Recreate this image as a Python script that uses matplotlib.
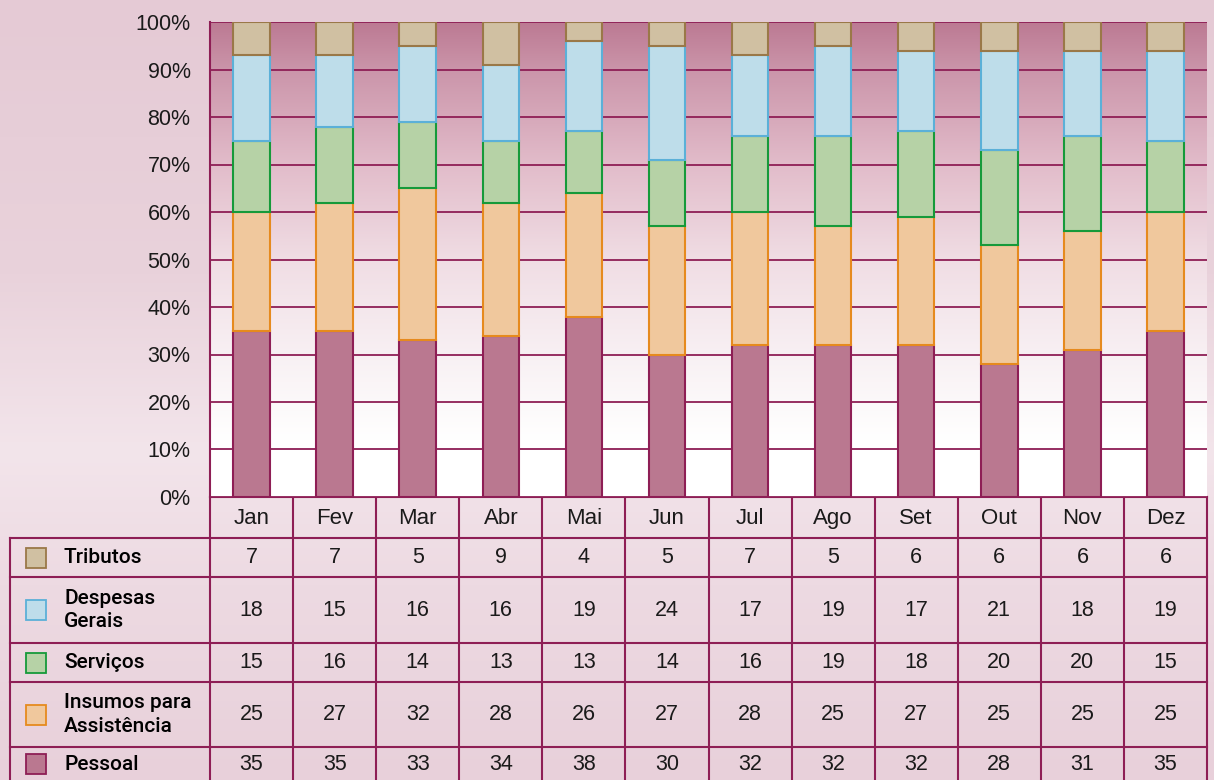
import numpy as np
import matplotlib
matplotlib.use("Agg")
import matplotlib.pyplot as plt
from matplotlib.colors import LinearSegmentedColormap
from matplotlib.patches import Rectangle

plt.rcParams['font.family'] = ['Liberation Sans', 'DejaVu Sans']

meses = ['Jan', 'Fev', 'Mar', 'Abr', 'Mai', 'Jun', 'Jul', 'Ago', 'Set', 'Out', 'Nov', 'Dez']

# bottom -> top of the stack
pessoal = [35, 35, 33, 34, 38, 30, 32, 32, 32, 28, 31, 35]
insumos = [25, 27, 32, 28, 26, 27, 28, 25, 27, 25, 25, 25]
servicos = [15, 16, 14, 13, 13, 14, 16, 19, 18, 20, 20, 15]
despesas = [18, 15, 16, 16, 19, 24, 17, 19, 17, 21, 18, 19]
tributos = [7, 7, 5, 9, 4, 5, 7, 5, 6, 6, 6, 6]

series = [pessoal, insumos, servicos, despesas, tributos]
nomes = ['Pessoal', 'Insumos para\nAssistência', 'Serviços', 'Despesas\nGerais', 'Tributos']
faces = ['#BA7890', '#F0C89D', '#B6D2A6', '#BEDDEA', '#D0C0A2']
edges = ['#8E1E55', '#E68A1E', '#169A3A', '#5BB0D8', '#9A7848']
linha = '#8E1E55'

W, H = 1214, 780
fig = plt.figure(figsize=(W / 100, H / 100), dpi=100)

# page background + table overlay in pixel coords
bg = fig.add_axes([0, 0, 1, 1])
bg.set_xlim(0, W)
bg.set_ylim(H, 0)
bg.axis('off')
bgcmap = LinearSegmentedColormap.from_list('bg', [
    (0.0, '#E5CAD5'), (0.35, '#E9D2DB'), (0.58, '#F3E5EB'),
    (0.75, '#EDDAE2'), (1.0, '#E8D0DA')])
bg.imshow(np.linspace(0, 1, 256).reshape(-1, 1), cmap=bgcmap, aspect='auto',
          extent=[0, W, H, 0], zorder=0)

# chart area
x0, x1, ytop, ybot = 210, 1207, 22, 497
ax = fig.add_axes([x0 / W, 1 - ybot / H, (x1 - x0) / W, (ybot - ytop) / H])
n = len(meses)
ax.set_xlim(-0.5, n - 0.5)
ax.set_ylim(0, 100)
grad = LinearSegmentedColormap.from_list('pl', [
    (0.0, '#FFFFFF'), (0.12, '#FFFFFF'), (0.3, '#F8F0F3'), (0.5, '#F0DDE4'),
    (0.7, '#E2BCCA'), (0.9, '#CB95AA'), (1.0, '#BC7A93')])
ax.imshow(np.linspace(0, 1, 256).reshape(-1, 1), cmap=grad, origin='lower',
          aspect='auto', extent=[-0.5, n - 0.5, 0, 100], zorder=-1)

x = np.arange(n)
base = np.zeros(n)
for vals, fc, ec in zip(series, faces, edges):
    ax.bar(x, vals, bottom=base, width=0.44, color=fc, edgecolor=ec,
           linewidth=1.5, zorder=3)
    base += np.array(vals)

ax.set_yticks(np.arange(0, 101, 10))
ax.set_yticklabels([f'{v}%' for v in range(0, 101, 10)], fontsize=15.5, color='#1a1a1a')
ax.tick_params(axis='y', length=0, pad=14)
ax.set_xticks([])
ax.set_axisbelow(True)
ax.yaxis.grid(True, color=linha, linewidth=1.3)
for s in ['top', 'right', 'bottom']:
    ax.spines[s].set_visible(False)
ax.spines['left'].set_color(linha)
ax.spines['left'].set_linewidth(1.5)

# data table
colw = (x1 - x0) / n
lab_x0 = 10
rows_y = [538, 577, 643, 682, 747, 780]
head_y = (ybot, 538)
kw = dict(color=linha, linewidth=1.5, zorder=5)

bg.plot([x0, x1], [ybot, ybot], **kw)
for yy in rows_y[:-1]:
    bg.plot([lab_x0, x1], [yy, yy], **kw)
for i in range(n + 1):
    bg.plot([x0 + i * colw] * 2, [ybot, H], **kw)
bg.plot([lab_x0, lab_x0], [rows_y[0], H], **kw)

for i, m in enumerate(meses):
    bg.text(x0 + (i + 0.5) * colw, sum(head_y) / 2 + 1, m, ha='center', va='center',
            fontsize=16, color='#1a1a1a', zorder=6)

# table rows top -> bottom are the stack reversed
for r, k in enumerate(range(len(series) - 1, -1, -1)):
    top, bot = rows_y[r], rows_y[r + 1]
    yc = (top + bot) / 2
    if r == len(series) - 1:
        yc = top + 17
    bg.add_patch(Rectangle((26, yc - 10), 20, 20, facecolor=faces[k],
                           edgecolor=edges[k], linewidth=1.3, zorder=6))
    bg.text(64, yc, nomes[k], ha='left', va='center', fontsize=15,
            family=['Roboto', 'DejaVu Sans'], weight='medium',
            color='#000000', linespacing=1.3, zorder=6)
    for i, v in enumerate(series[k]):
        bg.text(x0 + (i + 0.5) * colw, yc, str(v), ha='center', va='center',
                fontsize=15.5, color='#1a1a1a', zorder=6)

fig.savefig('out.png', dpi=100)
